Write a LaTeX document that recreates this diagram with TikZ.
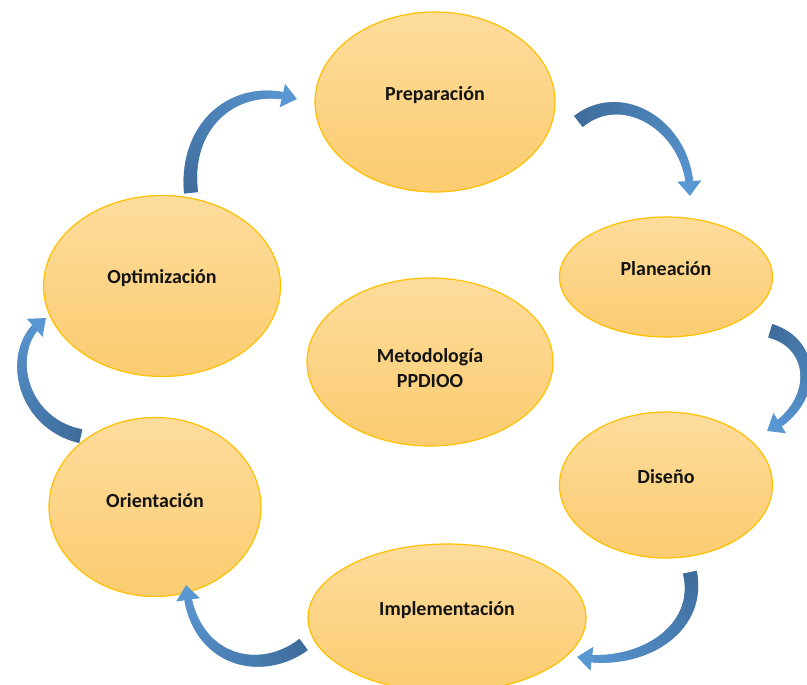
\documentclass[tikz,border=0pt]{standalone}
\usepackage{fontspec}
\setmainfont{Carlito}
\usetikzlibrary{arrows.meta,bending,shapes.geometric,decorations.markings}
\definecolor{eltop}{RGB}{253,220,156}
\definecolor{elbot}{RGB}{251,204,112}
\definecolor{elborder}{RGB}{255,192,0}
\definecolor{arrdark}{RGB}{62,108,155}
\definecolor{arrlight}{RGB}{90,152,212}
\definecolor{txtcol}{RGB}{20,20,20}
\tikzset{
  phase/.style={ellipse, draw=elborder, line width=1.2pt, top color=eltop, bottom color=elbot, inner sep=0pt},
  lbl/.style={font=\fontsize{20}{25}\selectfont\bfseries, text=txtcol, align=center, inner sep=0pt},
  cyc/.style={draw=arrlight, line width=7pt, -{Triangle[width=23pt,length=15pt,flex]},
    postaction={decorate},
    decoration={markings,
      mark=between positions 0 and 0.9 step 1pt with {
        \pgfmathsetmacro\tpos{\pgfkeysvalueof{/pgf/decoration/mark info/sequence number}/\pgfdecoratedpathlength}
        \pgfmathsetmacro\hw{7-3.6*\tpos}
        \pgfmathsetmacro\pc{int(100*(1-\tpos))}
        \fill[arrdark!\pc!arrlight] (-0.9,-\hw) rectangle (0.9,\hw);
      }}}
}
\begin{document}
\begin{tikzpicture}[x=1pt,y=-1pt]
\clip (0,0) rectangle (807,685);
\fill[white] (0,0) rectangle (807,685);
% ellipses
\node[phase, minimum width=240pt, minimum height=180pt] (prep) at (435,102) {};
\node[phase, minimum width=213pt, minimum height=120pt] (plan) at (666,277) {};
\node[phase, minimum width=237pt, minimum height=181pt] (opt) at (162,286) {};
\node[phase, minimum width=246pt, minimum height=168pt] (met) at (430,362) {};
\node[phase, minimum width=213pt, minimum height=146pt] (dis) at (666,485) {};
\node[phase, minimum width=212pt, minimum height=179pt] (ori) at (155,507) {};
\node[phase, minimum width=278pt, minimum height=148pt] (imp) at (447,618) {};
% labels
\node[lbl] (prep-t) at (435,95) {Preparación};
\node[lbl] (plan-t) at (666,269) {Planeación};
\node[lbl] (opt-t) at (162,278) {Optimización};
\node[lbl] (met-t) at (430,368) {Metodología\\PPDIOO};
\node[lbl] (dis-t) at (666,477) {Diseño};
\node[lbl] (ori-t) at (155,501) {Orientación};
\node[lbl] (imp-t) at (447,610) {Implementación};
% arrow end points
\coordinate (a1s) at (191,192);
\coordinate (a1e) at (297,99);
\coordinate (a2s) at (579,121);
\coordinate (a2e) at (690,196);
\coordinate (a3s) at (771,331);
\coordinate (a3e) at (767,431);
\coordinate (a4s) at (690,573);
\coordinate (a4e) at (577,657);
\coordinate (a5s) at (303,645);
\coordinate (a5e) at (186,585);
\coordinate (a6s) at (80,436);
\coordinate (a6e) at (46,318);
% arrows
\draw[cyc] (a1s) .. controls (184,125) and (235,80) .. (a1e);
\draw[cyc] (a2s) .. controls (625,85) and (692,130) .. (a2e);
\draw[cyc] (a3s) .. controls (818,345) and (818,405) .. (a3e);
\draw[cyc] (a4s) .. controls (702,630) and (640,668) .. (a4e);
\draw[cyc] (a5s) .. controls (258,678) and (192,660) .. (a5e);
\draw[cyc] (a6s) .. controls (18,422) and (4,345) .. (a6e);
\end{tikzpicture}
\end{document}
